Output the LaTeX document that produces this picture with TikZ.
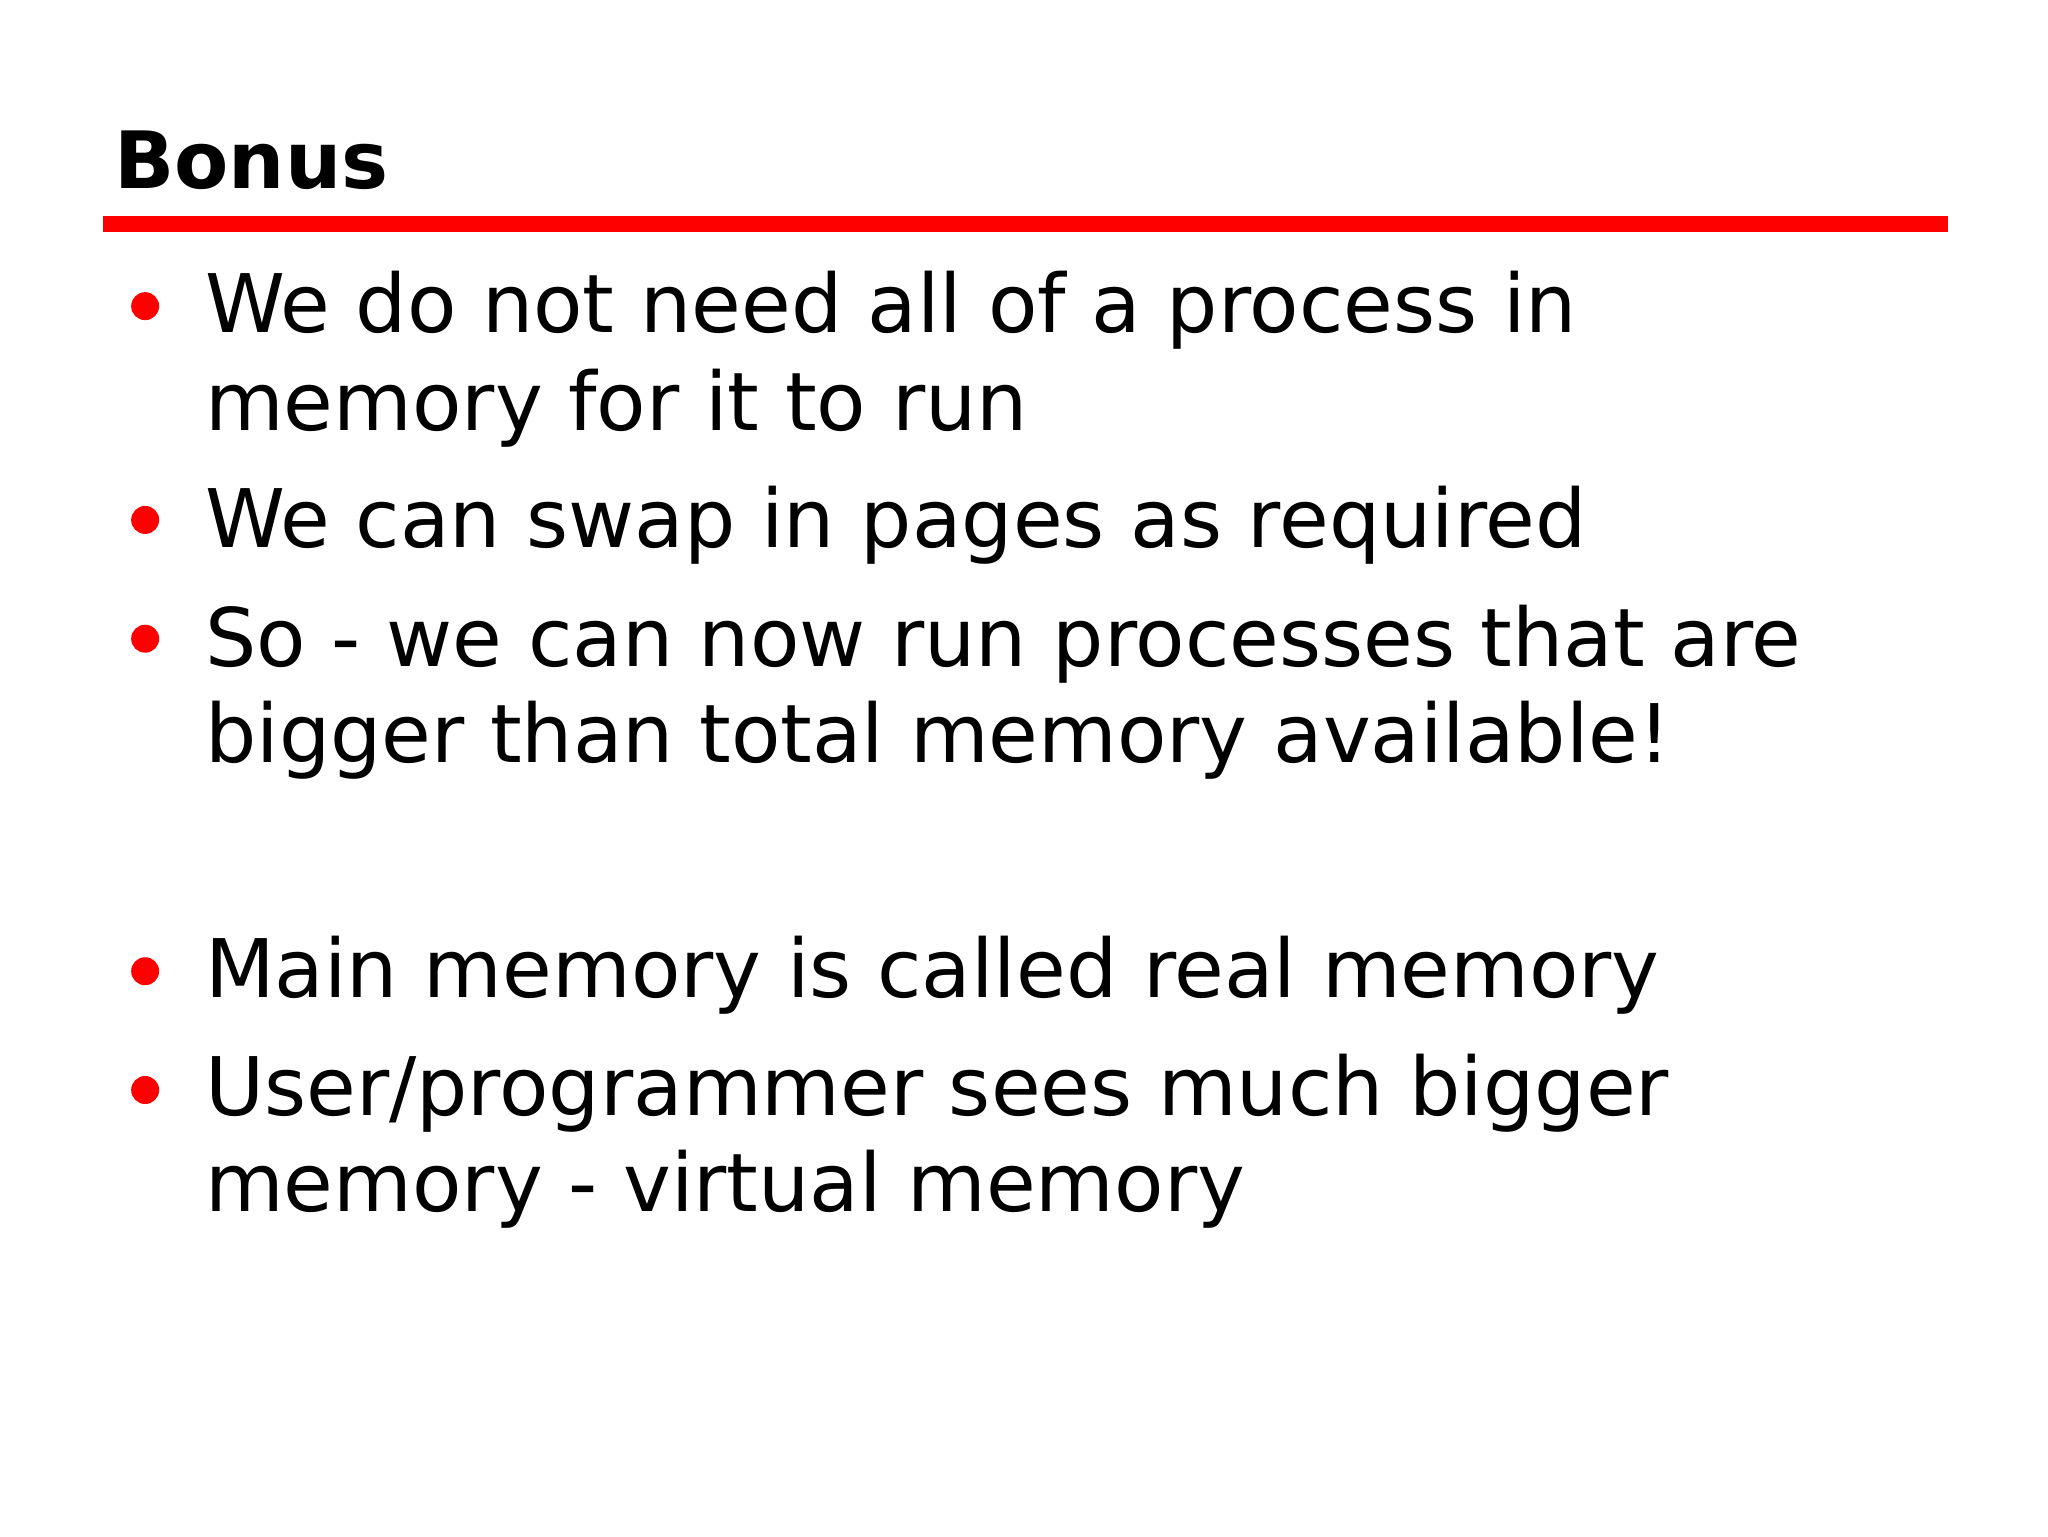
\documentclass[tikz,border=0pt]{standalone}
\usepackage{fontspec}
\setmainfont{DejaVu Sans}
\begin{document}
\begin{tikzpicture}[x=0.013196cm,y=-0.013196cm,
  txt/.style={anchor=base west,inner sep=0pt,font=\fontsize{23}{28}\selectfont},
  dot/.style={circle,fill=red,inner sep=0pt,minimum size=0.28cm}]
\useasboundingbox (0,0) rectangle (1552,1164);
\fill[white] (0,0) rectangle (1552,1164);
\node[anchor=base west,inner sep=0pt,font=\fontsize{22.5}{27}\selectfont\bfseries] (title) at (86,143) {Bonus};
\fill[red] (78,164) rectangle (1476,176);
\node[txt] (t1) at (155,252) {We do not need all of a process in};
\node[txt] (t2) at (155,326) {memory for it to run};
\node[txt] (t3) at (155,415) {We can swap in pages as required};
\node[txt] (t4) at (155,505) {So - we can now run processes that are};
\node[txt] (t5) at (155,578) {bigger than total memory available!};
\node[txt] (t6) at (155,756) {Main memory is called real memory};
\node[txt] (t7) at (155,845) {User/programmer sees much bigger};
\node[txt] (t8) at (155,918) {memory - virtual memory};
\foreach \y [count=\i] in {232,394,484,736,826}
  \node[dot] (b\i) at (110,\y) {};
\end{tikzpicture}
\end{document}
